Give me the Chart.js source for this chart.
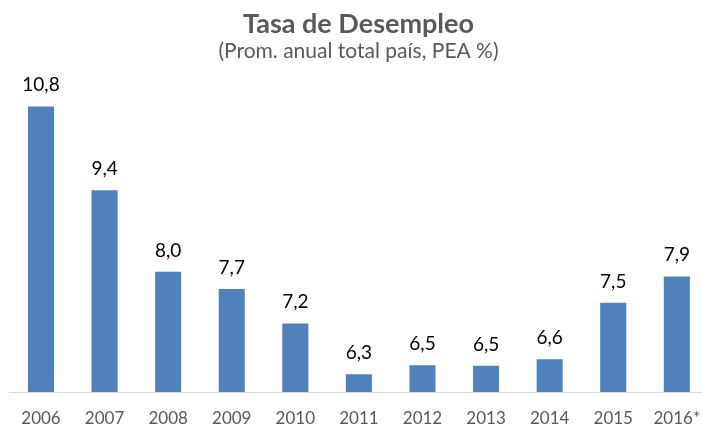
<!DOCTYPE html>
<html>
<head>
<meta charset="utf-8">
<script src="https://cdn.jsdelivr.net/npm/chart.js@4.4.0/dist/chart.umd.min.js"></script>
<style>
html,body{margin:0;padding:0;background:#fff;overflow:hidden;width:702px;height:425px;}
#wrap{position:absolute;left:0;top:0;width:717px;height:425px;}
</style>
</head>
<body>
<div id="wrap"><canvas id="c" width="717" height="425"></canvas></div>
<script>
const categories = ["2006","2007","2008","2009","2010","2011","2012","2013","2014","2015","2016*"];
const values = [10.8, 9.39, 8.02, 7.73, 7.15, 6.30, 6.45, 6.44, 6.55, 7.50, 7.94];
const valueLabels = ["10,8","9,4","8,0","7,7","7,2","6,3","6,5","6,5","6,6","7,5","7,9"];
const titleText = "Tasa de Desempleo";
const subtitleText = "(Prom. anual total país, PEA %)";

const FONT = "Lato, 'Open Sans', sans-serif";

const textPlugin = {
  id: 'texts',
  afterDraw(chart) {
    const ctx = chart.ctx;
    ctx.save();
    ctx.textAlign = "center";
    ctx.textBaseline = "alphabetic";
    ctx.fillStyle = "#595959";
    ctx.font = "bold 27px " + FONT;
    ctx.fillText(titleText, chart.width / 2, 33.3);
    ctx.font = "21px " + FONT;
    ctx.fillText(subtitleText, chart.width / 2, 58.3);
    const meta = chart.getDatasetMeta(0);
    ctx.font = "19px " + FONT;
    ctx.fillStyle = "#000000";
    meta.data.forEach((bar, i) => {
      ctx.fillText(valueLabels[i], bar.x, bar.y - 15.2);
    });
    ctx.restore();
  }
};

new Chart(document.getElementById('c'), {
  type: 'bar',
  data: {
    labels: categories,
    datasets: [{
      data: values,
      backgroundColor: '#4f81bd',
      borderWidth: 0,
      categoryPercentage: 1.0,
      barPercentage: 0.41
    }]
  },
  options: {
    responsive: false,
    animation: false,
    devicePixelRatio: 1,
    layout: { padding: { left: 9.2, right: 7.6, top: 94.5, bottom: 0 } },
    plugins: {
      legend: { display: false },
      tooltip: { enabled: false },
      title: { display: false }
    },
    scales: {
      x: {
        grid: { display: false, drawTicks: false },
        border: { display: true, color: '#d9d9d9', width: 1 },
        ticks: { color: '#595959', font: { family: FONT, size: 17 }, padding: 16.5, maxRotation: 0, autoSkip: false },
        afterFit(scale) { scale.height = 33; }
      },
      y: {
        display: false,
        min: 6,
        max: 11
      }
    }
  },
  plugins: [textPlugin]
});
</script>
</body>
</html>
